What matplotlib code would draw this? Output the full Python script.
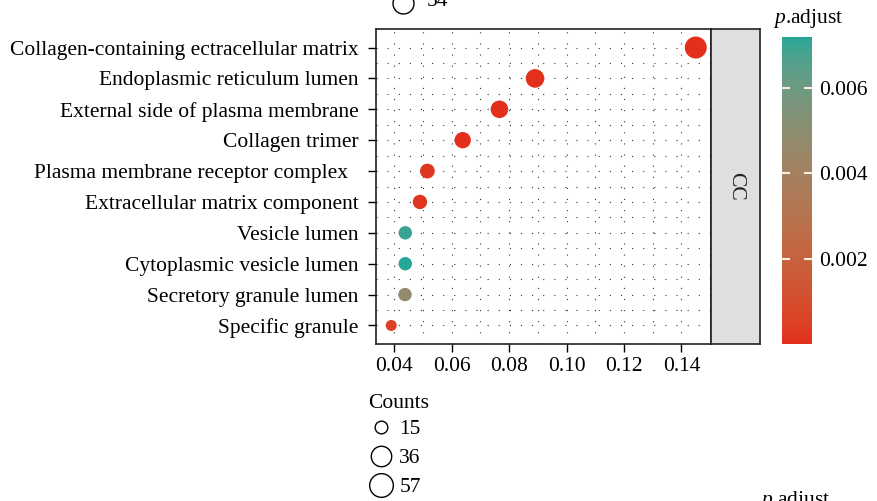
import numpy as np
import matplotlib
matplotlib.use("Agg")
import matplotlib.pyplot as plt
from matplotlib.colors import ListedColormap
from matplotlib.lines import Line2D

plt.rcParams['font.family'] = ['Liberation Serif', 'DejaVu Serif']
plt.rcParams['mathtext.fontset'] = 'custom'
plt.rcParams['mathtext.rm'] = 'Liberation Serif'
plt.rcParams['mathtext.it'] = 'Liberation Serif:italic'

# ---------------- data ----------------
terms = ["Collagen-containing ectracellular matrix",
         "Endoplasmic reticulum lumen",
         "External side of plasma membrane",
         "Collagen trimer",
         "Plasma membrane receptor complex  ",
         "Extracellular matrix component",
         "Vesicle lumen",
         "Cytoplasmic vesicle lumen",
         "Secretory granule lumen",
         "Specific granule"]
gene_ratio = [0.145, 0.089, 0.0766, 0.0638, 0.0515, 0.0489, 0.0438, 0.0438, 0.0437, 0.0389]
counts = [57, 35, 30, 25, 20, 19, 17, 17, 17, 15]
p_adjust = [2.1e-9, 3.5e-7, 1.2e-5, 4.0e-6, 2.3e-4, 1.8e-4, 0.0070, 0.0072, 0.0047, 5.0e-4]
facet = "CC"
x_ticks = [0.04, 0.06, 0.08, 0.10, 0.12, 0.14]
cbar_ticks = [0.002, 0.004, 0.006]
legend_counts = [15, 36, 57]

FS = 15.5

# ---------------- colours (Lab gradient like ggplot) ----------------
def srgb_to_lab(c):
    c = np.asarray(c, float) / 255.0
    c = np.where(c > 0.04045, ((c + 0.055) / 1.055) ** 2.4, c / 12.92)
    M = np.array([[0.4124, 0.3576, 0.1805], [0.2126, 0.7152, 0.0722], [0.0193, 0.1192, 0.9505]])
    xyz = M @ c / np.array([0.95047, 1.0, 1.08883])
    f = np.where(xyz > 0.008856, np.cbrt(xyz), 7.787 * xyz + 16 / 116)
    return np.array([116 * f[1] - 16, 500 * (f[0] - f[1]), 200 * (f[1] - f[2])])

def lab_to_srgb(lab):
    L, a, b = lab
    fy_ = (L + 16) / 116
    fx_ = fy_ + a / 500
    fz_ = fy_ - b / 200
    f = np.array([fx_, fy_, fz_])
    xyz = np.where(f ** 3 > 0.008856, f ** 3, (f - 16 / 116) / 7.787) * np.array([0.95047, 1.0, 1.08883])
    Minv = np.array([[3.2406, -1.5372, -0.4986], [-0.9689, 1.8758, 0.0415], [0.0557, -0.2040, 1.0570]])
    c = Minv @ xyz
    c = np.where(c > 0.0031308, 1.055 * np.clip(c, 0, None) ** (1 / 2.4) - 0.055, 12.92 * c)
    return np.clip(c, 0, 1)

low = srgb_to_lab((226, 48, 28))
high = srgb_to_lab((38, 166, 150))
cols = [lab_to_srgb(low + (high - low) * t) for t in np.linspace(0, 1, 256)]
cmap = ListedColormap(cols)

# ---------------- size mapping (ggplot scale_size style) ----------------
cmin, cmax = min(counts), max(counts)
def diam_pt(c):
    px = 11 + 11 * np.sqrt((np.asarray(c, float) - cmin) / (cmax - cmin))
    return px * 0.72

# ---------------- figure ----------------
W, H = 878, 501
fig = plt.figure(figsize=(W / 100, H / 100), dpi=100)

def fx(x):
    return x / W
def fy(y):
    return 1 - y / H

ax = fig.add_axes([fx(376), fy(344), (711 - 376) / W, (344 - 29) / H])
ypos = np.arange(len(terms))[::-1]
sc = ax.scatter(gene_ratio, ypos, s=diam_pt(counts) ** 2, c=p_adjust, cmap=cmap,
                vmin=min(p_adjust), vmax=max(p_adjust), zorder=3, edgecolors='none')
rng = max(gene_ratio) - min(gene_ratio)
ax.set_xlim(min(gene_ratio) - 0.05 * rng, max(gene_ratio) + 0.05 * rng)
ax.set_ylim(-0.6, len(terms) - 1 + 0.6)
ax.set_yticks(ypos)
ax.set_yticklabels(terms, fontsize=FS)
ax.set_xticks(x_ticks)
ax.set_xticklabels([f"{v:.2f}" for v in x_ticks], fontsize=FS)
ax.set_xticks(np.arange(0.05, 0.151, 0.02), minor=True)
ax.set_yticks(np.arange(len(terms) - 1) + 0.5, minor=True)
ax.tick_params(axis='y', which='major', length=5.5, width=1, color='black', pad=7)
ax.tick_params(axis='x', which='major', length=5.5, width=1, color='black', pad=4)
ax.tick_params(axis='both', which='minor', length=0)
ax.grid(True, which='both', linestyle=(0, (1, 9)), color='#333333', linewidth=0.8, zorder=0)
ax.set_axisbelow(True)
for sp in ax.spines.values():
    sp.set_linewidth(1.2)
    sp.set_color('#222222')

# facet strip
sax = fig.add_axes([fx(711), fy(344), (760 - 711) / W, (344 - 29) / H])
sax.set_facecolor('#E0DFE0')
sax.set_xticks([]); sax.set_yticks([])
for sp in sax.spines.values():
    sp.set_linewidth(1.2)
    sp.set_color('#222222')
sax.text(0.5, 0.5, facet, rotation=-90, ha='center', va='center', fontsize=FS,
         color='#222222', transform=sax.transAxes)

# colour bar
cax = fig.add_axes([fx(782), fy(344), (812 - 782) / W, (344 - 37) / H])
cb = fig.colorbar(sc, cax=cax, ticks=cbar_ticks)
cb.outline.set_visible(False)
cax.set_yticklabels([f"{v:.3f}" for v in cbar_ticks], fontsize=FS)
cax.tick_params(which='major', direction='in', length=6, width=1.5, color='#FBEFDF',
                left=True, right=True, labelleft=False, labelright=True, pad=5)
cax.tick_params(which='minor', length=0)
fig.text(fx(808), fy(18), r"$\mathit{p}$.adjust", ha='center', va='center', fontsize=FS)

# counts legend
fig.text(fx(368), fy(404), "Counts", ha='left', va='center', fontsize=FS)
handles = [Line2D([], [], linestyle='none', marker='o', markerfacecolor='none',
                  markeredgecolor='black', markeredgewidth=1.0, markersize=diam_pt(c) + 1.2)
           for c in legend_counts]
leg = fig.legend(handles, [str(c) for c in legend_counts],
                 loc='upper left', bbox_to_anchor=(fx(368), fy(419)), frameon=False,
                 fontsize=FS, handletextpad=0.25,
                 labelspacing=0.42, borderaxespad=0, borderpad=0, handlelength=1.2)

# fragments of neighbouring panels (cropped composite)
fig.add_artist(Line2D([fx(403)], [fy(3)], marker='o', markersize=21 * 0.72,
                      markerfacecolor='none', markeredgecolor='black', markeredgewidth=1.0,
                      transform=fig.transFigure))
fig.text(fx(427), fy(2), "54", ha='left', va='center', fontsize=FS)
fig.text(fx(795), fy(500), r"$\mathit{p}$.adjust", ha='center', va='center', fontsize=FS)

fig.savefig("out.png", dpi=100)
